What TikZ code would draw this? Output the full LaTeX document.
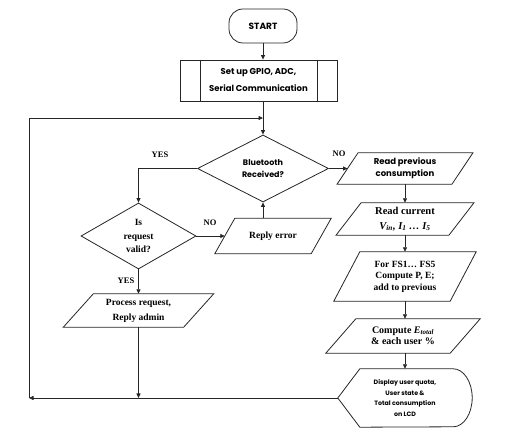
\documentclass[tikz,border=0pt]{standalone}
\usepackage{fontspec}
\setmainfont{Liberation Serif}
\setsansfont{Poppins}
\usetikzlibrary{shapes.geometric,arrows.meta}
\tikzset{
  line/.style={draw=black!85, line width=0.8pt},
  arr/.style={line, -{Triangle[length=4.5pt,width=4pt]}},
  txt/.style={align=center, inner sep=0pt, font=\bfseries\fontsize{9.5}{12}\selectfont},
  stxt/.style={align=center, inner sep=0pt, font=\sffamily\bfseries\fontsize{8}{12.5}\selectfont},
  lbl/.style={inner sep=0pt, font=\bfseries\fontsize{8.5}{10}\selectfont},
  pbox/.style={rectangle, inner sep=0pt, minimum width=#1},
}
\newcommand\parabox[2]{\draw[line] ([xshift=-#2]#1.south west) -- ([xshift=-#2]#1.south east) -- ([xshift=#2]#1.north east) -- ([xshift=#2]#1.north west) -- cycle;}
\begin{document}
\begin{tikzpicture}[x=1pt,y=-1pt]
\useasboundingbox (0,0) rectangle (507,438);
% start
\node[line, rounded corners=14pt, minimum width=68pt, minimum height=34pt, inner sep=0pt,
      font=\sffamily\bfseries\fontsize{9}{11}\selectfont] (start) at (263,26) {START};
% setup
\node[line, rectangle, minimum width=157pt, minimum height=41pt, inner sep=0pt, align=center,
      font=\sffamily\bfseries\fontsize{8.5}{17}\selectfont] (setup) at (258.5,80.5) {Set up GPIO, ADC,\\Serial Communication};
\draw[line] ([xshift=21pt]setup.north west) -- ([xshift=21pt]setup.south west);
\draw[line] ([xshift=-20pt]setup.north east) -- ([xshift=-20pt]setup.south east);
% bluetooth diamond
\node[line, diamond, minimum width=131pt, minimum height=67pt, inner sep=0pt, stxt] (bt) at (263,168.5) {Bluetooth\\Received?};
% valid diamond
\node[line, diamond, minimum width=115pt, minimum height=66pt, inner sep=0pt, txt,
      font=\bfseries\fontsize{9.5}{13.5}\selectfont] (valid) at (138.5,236) {Is\\request\\valid?};
% reply error
\node[pbox=96pt, minimum height=35pt, txt] (reperr) at (273,236) {Reply error};
\parabox{reperr}{10pt}
% process request
\node[pbox=120pt, minimum height=33pt, txt, font=\bfseries\fontsize{9.5}{15}\selectfont] (proc) at (138.5,310.5) {Process request,\\Reply admin};
\parabox{proc}{15pt}
% right column
\node[pbox=114.5pt, minimum height=31pt, stxt, font=\sffamily\bfseries\fontsize{8.5}{12}\selectfont] (readprev) at (405,168.5) {Read previous\\consumption};
\parabox{readprev}{10.5pt}
\node[pbox=112.5pt, minimum height=32pt, txt, font=\bfseries\fontsize{10.5}{15}\selectfont] (readcur) at (405,219) {Read current\\\textit{V\textsubscript{in}, I\textsubscript{1} … I\textsubscript{5}}};
\parabox{readcur}{12.5pt}
\node[pbox=116pt, minimum height=49pt, txt, font=\bfseries\fontsize{9.5}{11.5}\selectfont] (fs) at (405,276.5) {For FS1… FS5\\Compute P, E;\\add to previous};
\parabox{fs}{13pt}
\node[pbox=124pt, minimum height=34pt, txt, font=\bfseries\fontsize{10}{11.5}\selectfont] (comp) at (403,336) {Compute \textit{E\textsubscript{total}}\\\& each user \%};
\parabox{comp}{15pt}
% display
\node[rectangle, inner sep=0pt, minimum width=134pt, minimum height=58pt, align=center,
      font=\sffamily\bfseries\fontsize{6.3}{10.5}\selectfont] (disp) at (405,398) {Display user quota,\\User state \&\\Total consumption\\on LCD};
\draw[line] (disp.west) -- ([xshift=22pt]disp.north west) -- ([xshift=-19pt]disp.north east)
  arc[start angle=90, end angle=-90, x radius=19pt, y radius=29pt] -- ([xshift=22pt]disp.south west) -- cycle;
% loop coordinates
\coordinate (loopBL) at (29,398);
\coordinate (loopTL) at (29,118);
\coordinate (loopTR) at (263,118);
% connectors
\draw[arr] (start.south) -- (start.south |- setup.north);
\draw[arr] (bt.north |- setup.south) -- (bt.north);
\draw[arr] (disp.west) -- (loopBL);
\draw[arr] (loopBL) -- (loopTL) -- (loopTR);
\draw[arr] (bt.west) -| (valid.north);
\draw[arr] (bt.east) -- (readprev.west);
\draw[arr] (valid.east) -- (reperr.west);
\draw[arr] (reperr.north -| bt.south) -- (bt.south);
\draw[arr] (valid.south) -- (proc.north);
\draw[arr] (proc.south) -- (proc.south |- loopBL);
\draw[arr] (readprev.south) -- (readcur.north);
\draw[arr] (readcur.south) -- (fs.north);
\draw[arr] (fs.south) -- (fs.south |- comp.north);
\draw[arr] (fs.south |- comp.south) -- (fs.south |- disp.north);
% labels
\node[lbl] (yes1) at (160,155) {YES};
\node[lbl] (no1) at (339,154) {NO};
\node[lbl] (no2) at (210,223) {NO};
\node[lbl] (yes2) at (126,281) {YES};
\end{tikzpicture}
\end{document}
